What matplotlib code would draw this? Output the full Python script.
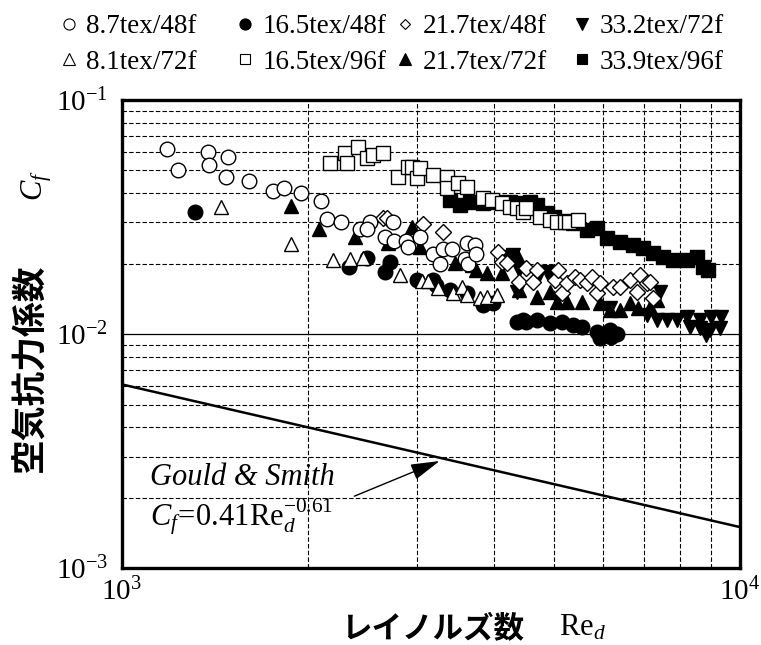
import numpy as np
import matplotlib
matplotlib.use("Agg")
import matplotlib.pyplot as plt
from matplotlib.lines import Line2D
from matplotlib.ticker import LogLocator, LogFormatterSciNotation, NullFormatter

plt.rcParams["font.family"] = ["Liberation Serif", "DejaVu Serif"]
plt.rcParams["mathtext.fontset"] = "custom"
plt.rcParams["mathtext.rm"] = "Liberation Serif"
plt.rcParams["mathtext.it"] = "Liberation Serif:italic"
plt.rcParams["mathtext.bf"] = "Liberation Serif:bold"

# ---------------------------------------
# Data (Re_d, Cf)
# ---------------------------------------
# 8.7tex/48f  (open circles)
re_87_48 = [1183, 1232, 1378, 1383, 1484, 1473, 1606, 1755, 1829, 1948, 2099, 2147,
            2262, 2428, 2519, 2491, 2665, 2745, 2755, 2881, 2903, 3035, 3186, 3270,
            3307, 3420, 3589, 3617, 3630, 3726, 3750]
cf_87_48 = [0.062, 0.050, 0.060, 0.053, 0.057, 0.047, 0.045, 0.041, 0.042, 0.040, 0.037, 0.031,
            0.030, 0.028, 0.030, 0.028, 0.026, 0.030, 0.025, 0.025, 0.0235, 0.026, 0.022, 0.020,
            0.023, 0.023, 0.021, 0.0245, 0.020, 0.024, 0.022]

# 8.1tex/72f  (open triangles)
re_81_72 = [1450, 1880, 2195, 2338, 2460, 2818, 3060, 3128, 3245, 3433, 3549, 3618,
            3796, 3898, 4045]
cf_81_72 = [0.0349, 0.0243, 0.0207, 0.0209, 0.0211, 0.0178, 0.0168, 0.0168, 0.0157, 0.0150,
            0.0159, 0.0147, 0.0142, 0.0144, 0.0147]

# 16.5tex/48f  (filled circles)
re_165_48 = [1313, 2330, 2491, 2716, 2665, 3002, 3186, 3230, 3394, 3617, 3838, 3985,
             4356, 4455, 4510, 4693, 4928, 5152, 5368, 5551, 5869, 6160, 6324, 5935, 6200]
cf_165_48 = [0.0332, 0.0193, 0.0211, 0.0203, 0.0184, 0.0170, 0.0170, 0.0162, 0.0154, 0.0150,
             0.0133, 0.0136, 0.0113, 0.0115, 0.0113, 0.0115, 0.0112, 0.0113, 0.0109, 0.0107,
             0.0102, 0.0104, 0.0100, 0.0096, 0.0097]

# 16.5tex/96f  (open squares)
re_165_96 = [2171, 2295, 2312, 2410, 2491, 2547, 2645, 2797, 2903, 2946, 3002, 3035,
             3186, 3357, 3357, 3497, 3617, 3838, 3969, 4121, 4245, 4356, 4455, 4510,
             4747, 4928, 5057, 5210, 5300, 5469]
cf_165_96 = [0.0538, 0.0594, 0.0538, 0.0630, 0.0565, 0.0582, 0.0594, 0.0469, 0.0517, 0.0517,
             0.0465, 0.0513, 0.0478, 0.0469, 0.0421, 0.0442, 0.0425, 0.0381, 0.0374, 0.0363,
             0.0349, 0.0346, 0.0332, 0.0346, 0.0316, 0.0307, 0.0301, 0.0301, 0.0301, 0.0307]

# 21.7tex/48f  (open diamonds)
re_217_48 = [2645, 2685, 3069, 3307, 4060, 4121, 4198, 4400, 4510, 4624, 4693, 5019,
             5080, 5152, 5248, 5420, 5513, 5655, 5761, 5869, 5935, 6232, 6395, 6637,
             6813, 6890, 7070, 7151, 7231]
cf_217_48 = [0.0313, 0.0313, 0.0295, 0.0272, 0.0224, 0.0203, 0.0201, 0.0167, 0.0191, 0.0167,
             0.0188, 0.0170, 0.0188, 0.0150, 0.0165, 0.0175, 0.0170, 0.0165, 0.0175, 0.0150,
             0.0165, 0.0159, 0.0159, 0.0170, 0.0151, 0.0179, 0.0165, 0.0167, 0.0142]

# 21.7tex/72f  (filled triangles)
re_217_72 = [1877, 2084, 2382, 2695, 2946, 3035, 3458, 3685, 3750, 3898, 4121, 4198,
             4356, 4400, 4693, 4928, 5057, 5248, 5551, 5935, 6160, 6395, 6637, 6838,
             7151, 7338]
cf_217_72 = [0.0352, 0.0281, 0.0260, 0.0245, 0.0287, 0.0235, 0.0201, 0.0197, 0.0188, 0.0182,
             0.0182, 0.0218, 0.0218, 0.0154, 0.0144, 0.0151, 0.0137, 0.0137, 0.0137, 0.0136,
             0.0127, 0.0127, 0.0136, 0.0129, 0.0130, 0.0140]

# 33.2tex/72f  (filled down triangles)
re_332_72 = [4090, 4276, 4290, 4356, 4400, 4711, 4872, 4984, 6160, 7430, 7070, 7338,
             7620, 7908, 8208, 8617, 9000, 9340, 8300, 8617, 8944, 9280, 8830]
cf_332_72 = [0.0213, 0.0211, 0.0218, 0.0151, 0.0188, 0.0175, 0.0184, 0.0175, 0.0129, 0.0151,
             0.0121, 0.0115, 0.0115, 0.0115, 0.0118, 0.0115, 0.0118, 0.0118, 0.0107, 0.0106,
             0.0104, 0.0106, 0.0099]

# 33.9tex/96f  (filled squares)
re_339_96 = [3394, 3524, 3657, 3838, 4045, 4245, 4356, 4573, 4693, 4872, 5000, 5200,
             5368, 5655, 5869, 6093, 6395, 6713, 6966, 7231, 7506, 7791, 8208, 8520,
             8712, 8877]
cf_339_96 = [0.0374, 0.0356, 0.0367, 0.0363, 0.0367, 0.0367, 0.0363, 0.0367, 0.0356, 0.0329,
             0.0316, 0.0305, 0.0298, 0.0278, 0.0284, 0.0257, 0.0247, 0.0240, 0.0233, 0.0222,
             0.0213, 0.0207, 0.0207, 0.0213, 0.0193, 0.0188]

# Gould & Smith line endpoints
gs_re = [1000, 10000]
gs_cf = [0.0061, 0.0015]

# ---------------------------------------
# Plot
# ---------------------------------------
fig = plt.figure(figsize=(7.61, 6.45), dpi=100)
ax = fig.add_axes([0.160, 0.119, 0.812, 0.726])

ax.set_xscale("log")
ax.set_yscale("log")
ax.set_xlim(1e3, 1e4)
ax.set_ylim(1e-3, 1e-1)

ax.plot(gs_re, gs_cf, color="black", lw=1.8, zorder=2)

mk = dict(ls="none", mec="black", mew=1.0, zorder=3)
ax.plot(re_339_96, cf_339_96, marker="s", ms=9.5, mfc="black", **mk)
ax.plot(re_165_96, cf_165_96, marker="s", ms=9.5, mfc="white", **mk)
ax.plot(re_332_72, cf_332_72, marker="v", ms=10.5, mfc="black", **mk)
ax.plot(re_217_72, cf_217_72, marker="^", ms=10.5, mfc="black", **mk)
ax.plot(re_217_48, cf_217_48, marker="D", ms=8, mfc="white", **mk)
ax.plot(re_165_48, cf_165_48, marker="o", ms=10.5, mfc="black", **mk)
ax.plot(re_81_72, cf_81_72, marker="^", ms=10.5, mfc="white", **mk)
ax.plot(re_87_48, cf_87_48, marker="o", ms=10.5, mfc="white", **mk)

# grid: solid at decades, dashed at minor ticks
ax.grid(which="major", color="black", lw=0.9, ls="-")
ax.grid(which="minor", color="black", lw=0.8, ls=(0, (4, 2)))
ax.set_axisbelow(True)
ax.xaxis.set_major_locator(LogLocator(base=10))
ax.yaxis.set_major_locator(LogLocator(base=10))
ax.xaxis.set_minor_locator(LogLocator(base=10, subs=np.arange(2, 10)))
ax.yaxis.set_minor_locator(LogLocator(base=10, subs=np.arange(2, 10)))
ax.xaxis.set_minor_formatter(NullFormatter())
ax.yaxis.set_minor_formatter(NullFormatter())
ax.xaxis.set_major_formatter(LogFormatterSciNotation())
ax.yaxis.set_major_formatter(LogFormatterSciNotation())
ax.tick_params(which="both", length=0, labelsize=21)
ax.tick_params(axis="x", pad=7)
ax.tick_params(axis="y", pad=10)
for s in ax.spines.values():
    s.set_linewidth(2.4)

# annotation
ax.annotate("", xy=(3300, 0.0029), xytext=(2356, 0.00201),
            arrowprops=dict(arrowstyle="-|>,head_length=0.9,head_width=0.25",
                            color="black", lw=1.0, mutation_scale=20))
ax.text(1109, 0.00243, "Gould & Smith", style="italic", fontsize=22, ha="left", va="center")
ax.text(1109, 0.00166, r"$C_f\!=\!0.41\mathrm{Re}_d^{-0.61}$", fontsize=22,
        ha="left", va="center")

# axis labels
jp = ["Noto Sans CJK JP", "DejaVu Sans"]
fig.text(0.040, 0.430, "空気抗力係数", family=jp, weight="bold", fontsize=25,
         rotation=90, ha="center", va="center")
fig.text(0.048, 0.712, r"$C_f$", fontsize=22, rotation=90, ha="center", va="center")
fig.text(0.569, 0.024, "レイノルズ数", family=jp, weight="bold", fontsize=22,
         ha="center", va="center")
fig.text(0.765, 0.026, r"$\mathrm{Re}_d$", fontsize=22, ha="center", va="center")

# legend: four columns of two entries
lg_cols = [[("o", "white", "8.7tex/48f"), ("^", "white", "8.1tex/72f")],
           [("o", "black", "16.5tex/48f"), ("s", "white", "16.5tex/96f")],
           [("D", "white", "21.7tex/48f"), ("^", "black", "21.7tex/72f")],
           [("v", "black", "33.2tex/72f"), ("s", "black", "33.9tex/96f")]]
lg_x = [0.078, 0.309, 0.520, 0.752]
lg_ms = {"o": 8, "^": 8.5, "v": 8.5, "s": 7.5, "D": 5.5}
for col, x0 in zip(lg_cols, lg_x):
    hs = [Line2D([], [], ls="none", marker=m, ms=lg_ms[m], mfc=c, mec="black",
                 mew=0.8, label=t) for m, c, t in col]
    fig.legend(handles=hs, loc="center left", bbox_to_anchor=(x0, 0.931),
               frameon=False, fontsize=19.5, handlelength=0.7, handletextpad=0.3,
               labelspacing=0.38, borderpad=0, borderaxespad=0)

fig.savefig("out.png", dpi=100)
